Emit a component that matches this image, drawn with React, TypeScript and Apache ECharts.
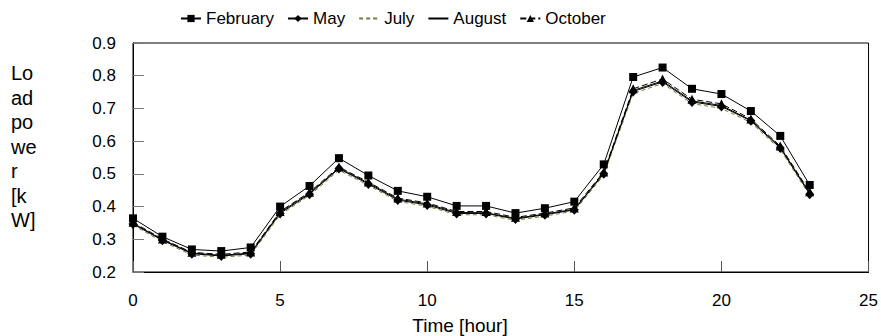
import React, { useEffect, useRef } from "react";
import * as echarts from "echarts";

// Hour of day (x) and average load power [kW] per month
const hours = [0, 1, 2, 3, 4, 5, 6, 7, 8, 9, 10, 11, 12, 13, 14, 15, 16, 17, 18, 19, 20, 21, 22, 23];
const february = [0.364, 0.308, 0.269, 0.264, 0.275, 0.400, 0.463, 0.548, 0.495, 0.448, 0.430, 0.402, 0.402, 0.380, 0.395, 0.415, 0.529, 0.796, 0.825, 0.760, 0.744, 0.692, 0.616, 0.466];
const may = [0.347, 0.297, 0.256, 0.249, 0.256, 0.379, 0.438, 0.516, 0.469, 0.420, 0.405, 0.379, 0.379, 0.362, 0.375, 0.390, 0.500, 0.752, 0.781, 0.720, 0.706, 0.662, 0.579, 0.438];
const july = [0.343, 0.293, 0.252, 0.245, 0.252, 0.375, 0.434, 0.511, 0.465, 0.416, 0.401, 0.375, 0.375, 0.358, 0.371, 0.386, 0.496, 0.746, 0.776, 0.715, 0.700, 0.657, 0.574, 0.434];
const august = [0.349, 0.299, 0.258, 0.251, 0.258, 0.382, 0.441, 0.518, 0.472, 0.423, 0.408, 0.382, 0.381, 0.364, 0.377, 0.392, 0.503, 0.755, 0.784, 0.723, 0.709, 0.664, 0.582, 0.441];
const october = [0.352, 0.301, 0.260, 0.254, 0.261, 0.385, 0.444, 0.521, 0.475, 0.426, 0.411, 0.385, 0.385, 0.367, 0.380, 0.396, 0.506, 0.760, 0.790, 0.728, 0.714, 0.668, 0.585, 0.445];

const seriesNames = ["February", "May", "July", "August", "October"];
const xTitle = "Time [hour]";
const yTitleLines = ["Lo", "ad", "po", "we", "r", "[k", "W]"];

const FONT = '"Liberation Sans", Arial, Helvetica, sans-serif';

const pairs = (ys: number[]) => hours.map((h, i) => [h, ys[i]]);

export default function App() {
  const ref = useRef<HTMLDivElement>(null);

  useEffect(() => {
    if (!ref.current) return;
    const chart = echarts.init(ref.current, null, { renderer: "svg" });

    const lineSeries = (
      name: string,
      ys: number[],
      symbol: string,
      symbolSize: number | number[],
      color: string,
      type: "solid" | "dashed" | number[]
    ) => ({
      name,
      type: "line",
      data: pairs(ys),
      symbol,
      symbolSize,
      showSymbol: symbol !== "none",
      itemStyle: { color: "#000" },
      lineStyle: { color, width: 1, type },
      emphasis: { disabled: true },
    });

    // Lines without markers get a plain line in the legend
    const noMarker = new Set(["July", "August"]);
    const legendData = seriesNames.map((name) =>
      noMarker.has(name) ? { name, itemStyle: { opacity: 0 } } : { name }
    );

    chart.setOption({
      animation: false,
      textStyle: { fontFamily: FONT },
      grid: {
        left: 133,
        right: 8,
        top: 43,
        bottom: 64,
        show: true,
        borderColor: "#000",
        borderWidth: 1,
        backgroundColor: "transparent",
      },
      legend: {
        left: 180,
        top: 10,
        padding: 0,
        itemWidth: 20,
        itemHeight: 9,
        itemGap: 13,
        textStyle: { fontSize: 17, color: "#000", fontFamily: FONT },
        data: legendData,
      },
      xAxis: {
        type: "value",
        min: 0,
        max: 25,
        interval: 5,
        axisLine: { show: true, lineStyle: { color: "#000", width: 1 } },
        axisTick: { show: true, inside: true, length: 11, lineStyle: { color: "#555" } },
        axisLabel: { fontSize: 17, color: "#000", margin: 20, fontFamily: FONT },
        splitLine: { show: false },
      },
      yAxis: {
        type: "value",
        min: 0.2,
        max: 0.9,
        interval: 0.1,
        axisLine: { show: true, lineStyle: { color: "#000", width: 1 } },
        axisTick: { show: true, inside: true, length: 11, lineStyle: { color: "#777" } },
        axisLabel: {
          fontSize: 17,
          color: "#000",
          margin: 17,
          fontFamily: FONT,
          formatter: (v: number) => v.toFixed(1),
        },
        splitLine: { show: false },
      },
      graphic: [
        {
          type: "text",
          left: 11,
          top: 61,
          style: {
            text: yTitleLines.join("\n"),
            fontSize: 20,
            lineHeight: 24.5,
            fill: "#000",
            fontFamily: FONT,
          },
        },
        {
          type: "text",
          x: 460,
          y: 325,
          style: {
            text: xTitle,
            fontSize: 19,
            fill: "#000",
            fontFamily: FONT,
            align: "center",
            verticalAlign: "middle",
          },
        },
      ],
      series: [
        lineSeries("February", february, "rect", 8, "#000", "solid"),
        lineSeries("May", may, "diamond", [9, 10], "#000", "solid"),
        lineSeries("July", july, "none", 0, "#7a7a3a", [4, 3]),
        lineSeries("August", august, "none", 0, "#000", "solid"),
        lineSeries("October", october, "triangle", 9, "#000", [6, 3]),
      ],
    });

    return () => chart.dispose();
  }, []);

  return (
    <div
      ref={ref}
      style={{ position: "fixed", left: 0, top: 0, width: 881, height: 336, background: "#fff" }}
    />
  );
}
